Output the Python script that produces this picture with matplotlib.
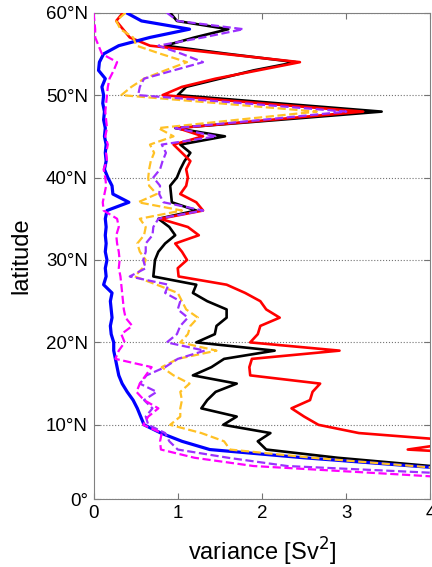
import matplotlib.pyplot as plt
import numpy as np

# ================= data =================
LAT = np.arange(60, 2, -1)   # 60N ... 3N, 1 degree steps

BLUE = [0.39, 0.57, 1.14, 0.67, 0.30, 0.12, 0.07, 0.06, 0.14, 0.10,
        0.12, 0.11, 0.13, 0.12, 0.14, 0.13, 0.15, 0.14, 0.15, 0.13,
        0.17, 0.22, 0.23, 0.42, 0.16, 0.14, 0.15, 0.14, 0.15, 0.14,
        0.16, 0.14, 0.15, 0.12, 0.22, 0.20, 0.21, 0.22, 0.20, 0.21,
        0.24, 0.24, 0.26, 0.28, 0.30, 0.34, 0.40, 0.47, 0.52, 0.56,
        0.60, 0.80, 1.05, 1.38, 2.50, 3.80, 5.10, 6.40]

MAGENTA = [0.00, 0.01, 0.02, 0.02, 0.06, 0.10, 0.28, 0.24, 0.19, 0.17,
           0.16, 0.15, 0.14, 0.15, 0.16, 0.14, 0.17, 0.15, 0.16, 0.12,
           0.14, 0.15, 0.13, 0.11, 0.12, 0.28, 0.30, 0.27, 0.28, 0.30,
           0.31, 0.30, 0.32, 0.33, 0.34, 0.35, 0.36, 0.38, 0.46, 0.33,
           0.37, 0.30, 0.26, 0.69, 0.62, 0.55, 0.51, 0.60, 0.77, 0.65,
           0.59, 0.81, 0.79, 0.80, 1.20, 1.90, 3.60, 5.20]

BLACK = [0.91, 0.99, 1.60, 1.20, 0.85, 1.60, 2.40, 1.90, 1.50, 1.10,
         1.00, 2.20, 3.42, 2.20, 0.97, 1.56, 1.03, 1.15, 1.08, 1.03,
         0.99, 0.91, 0.92, 0.93, 1.22, 0.77, 0.90, 0.97, 0.85, 0.77,
         0.73, 0.72, 0.71, 1.22, 1.18, 1.35, 1.58, 1.58, 1.46, 1.44,
         1.22, 2.15, 1.55, 1.40, 1.18, 1.70, 1.45, 1.35, 1.28, 1.70,
         1.54, 2.10, 1.95, 2.05, 2.90, 4.00, 5.00, 6.00]

RED = [0.35, 0.27, 0.35, 0.43, 0.67, 1.55, 2.45, 1.95, 1.45, 1.05,
       0.82, 2.00, 3.20, 2.10, 1.00, 1.30, 0.95, 1.05, 1.15, 1.10,
       1.12, 1.10, 1.03, 1.22, 1.30, 0.79, 1.12, 1.25, 0.97, 1.05,
       1.11, 1.00, 1.01, 1.58, 1.80, 1.98, 2.05, 2.21, 1.98, 1.95,
       1.86, 2.92, 1.88, 1.85, 1.86, 2.69, 2.60, 2.57, 2.35, 2.50,
       2.67, 3.15, 4.40, 3.73, 5.50, 7.00, 8.00, 9.00]

ORANGE = [0.38, 0.27, 0.32, 0.47, 0.51, 0.80, 1.11, 0.85, 0.60, 0.45,
          0.33, 1.50, 2.65, 1.70, 0.77, 0.95, 0.67, 0.72, 0.68, 0.66,
          0.65, 0.66, 0.75, 0.53, 1.05, 0.55, 0.62, 0.60, 0.52, 0.55,
          0.62, 0.58, 0.49, 0.75, 1.00, 1.05, 1.10, 1.24, 1.15, 1.12,
          1.03, 1.46, 1.00, 0.81, 0.95, 1.14, 1.03, 1.05, 1.03, 1.03,
          0.91, 1.28, 1.55, 1.62, 2.60, 3.80, 5.00, 6.20]

PURPLE = [0.87, 1.00, 1.78, 1.30, 0.77, 1.05, 1.30, 0.95, 0.60, 0.55,
          0.53, 1.80, 3.00, 2.00, 0.97, 1.46, 0.81, 0.86, 0.82, 0.79,
          0.71, 0.79, 0.78, 0.83, 1.30, 0.77, 0.71, 0.70, 0.62, 0.62,
          0.59, 0.62, 0.43, 0.89, 0.85, 1.03, 1.00, 1.12, 1.03, 0.99,
          0.87, 1.32, 1.00, 0.85, 0.63, 0.55, 0.75, 0.60, 0.70, 0.62,
          0.65, 0.85, 0.90, 1.00, 1.60, 2.30, 4.40, 6.00]

YTICKS = [1, 10, 20, 30, 40, 50, 60]
YTICKLABELS = ['0°', '10°N', '20°N', '30°N', '40°N', '50°N', '60°N']
XTICKS = [0, 1, 2, 3, 4]
# ================================================================

plt.rcParams['font.family'] = ['Liberation Sans', 'DejaVu Sans']

fig = plt.figure(figsize=(4.32, 5.67), dpi=100)
ax = fig.add_axes([93.5 / 432, 68 / 567, 337 / 432, 486.3 / 567])

ax.plot(BLACK, LAT, color='black', lw=1.9, zorder=3)
ax.plot(RED, LAT, color='#ff0000', lw=1.9, zorder=3)
ax.plot(BLUE, LAT, color='#0000ff', lw=2.3, zorder=4)
ax.plot(ORANGE, LAT, color='#ffc125', lw=1.6, ls='--', zorder=5)
ax.plot(PURPLE, LAT, color='#9b30ff', lw=1.6, ls='--', zorder=5)
ax.plot(MAGENTA, LAT, color='#ff00ff', lw=1.6, ls='--', zorder=5)

ax.set_xlim(0, 4)
ax.set_ylim(1, 60)
ax.set_xticks(XTICKS)
ax.set_yticks(YTICKS)
ax.set_yticklabels(YTICKLABELS)
ax.yaxis.grid(True, ls=':', color='0.45', lw=0.8)
ax.set_axisbelow(True)

ax.tick_params(direction='in', length=4, width=0.8, color='0.45',
               labelsize=13.5, top=True, right=True, pad=4)
for s in ax.spines.values():
    s.set_color('0.5')
    s.set_linewidth(0.8)

ax.set_xlabel('variance [Sv$^2$]', fontsize=17, labelpad=10)
ax.set_ylabel('latitude', fontsize=17, labelpad=10)

fig.savefig('out.png', dpi=100)
